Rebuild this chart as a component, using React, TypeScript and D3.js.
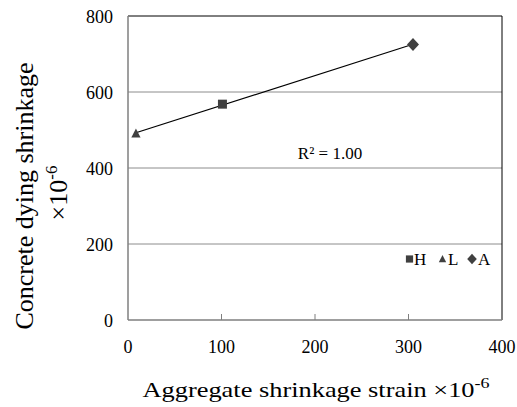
import React from "react";
import * as d3 from "d3";

const seriesNames = ["H", "L", "A"];
const xValues = [101, 8.5, 304.8];
const yValues = [568, 491, 725];
const xTicks = [0, 100, 200, 300, 400];
const yTicks = [0, 200, 400, 600, 800];
const r2Label = "R² = 1.00";

const W = 517, H = 407;
const m = { left: 128, right: 502, top: 16, bottom: 320 };
const font = "'Liberation Serif', 'Times New Roman', serif";
const markerColor = "#404040";

function markerPath(i: number, s: number): string {
  if (i === 0) return `M${-4.5 * s},${-4.5 * s}h${9 * s}v${9 * s}h${-9 * s}Z`;
  if (i === 1) return `M0,${-5 * s}L${4.6 * s},${4 * s}L${-4.6 * s},${4 * s}Z`;
  return `M0,${-6.5 * s}L${6 * s},0L0,${6.5 * s}L${-6 * s},0Z`;
}

export default function App() {
  const x = d3.scaleLinear().domain([0, 400]).range([m.left, m.right]);
  const y = d3.scaleLinear().domain([0, 800]).range([m.bottom, m.top]);

  const mx = d3.mean(xValues)!, my = d3.mean(yValues)!;
  const slope = d3.sum(xValues.map((v, i) => (v - mx) * (yValues[i] - my))) /
    d3.sum(xValues.map((v) => (v - mx) ** 2));
  const icpt = my - slope * mx;
  const [x0, x1] = d3.extent(xValues) as [number, number];
  const line = d3.line<number>().x((d) => x(d)).y((d) => y(icpt + slope * d));

  const legendMarkX = [409.5, 442.5, 472];
  const legendTextX = [414, 448, 478];
  return (
    <svg width={W} height={H} style={{ position: "absolute", left: 0, top: 0 }}>
      <rect width={W} height={H} fill="#fff" />
      {yTicks.filter((t) => t > 0 && t < 800).map((t) => (
        <line key={t} x1={m.left} x2={m.right} y1={y(t)} y2={y(t)} stroke="#8c8c8c" strokeWidth={1} />
      ))}
      <line x1={m.left} x2={m.right} y1={m.top} y2={m.top} stroke="#000" />
      <line x1={m.right} x2={m.right} y1={m.top} y2={m.bottom} stroke="#000" />
      <line x1={m.left} x2={m.left} y1={m.top} y2={m.bottom} stroke="#7f7f7f" strokeWidth={1.5} />
      <line x1={m.left} x2={m.right} y1={m.bottom} y2={m.bottom} stroke="#7f7f7f" strokeWidth={1.5} />
      {xTicks.filter((t) => t > 0 && t < 400).map((t) => (
        <line key={t} x1={x(t)} x2={x(t)} y1={m.bottom} y2={m.bottom - 6} stroke="#7f7f7f" />
      ))}
      {yTicks.map((t) => (
        <text key={t} x={m.left - 15} y={y(t) + 1} dy="0.35em" textAnchor="end" fontFamily={font} fontSize={18}>{t}</text>
      ))}
      {xTicks.map((t) => (
        <text key={t} x={x(t)} y={m.bottom + 33} textAnchor="middle" fontFamily={font} fontSize={18}>{t}</text>
      ))}
      <path d={line([x0, x1])!} fill="none" stroke="#000" strokeWidth={1.2} />
      {xValues.map((v, i) => (
        <path key={i} d={markerPath(i, 1)} transform={`translate(${x(v)},${y(yValues[i])})`} fill={markerColor} />
      ))}
      <text x={330} y={159} textAnchor="middle" fontFamily={font} fontSize={17}>{r2Label}</text>
      {seriesNames.map((n, i) => (
        <g key={n}>
          <path d={markerPath(i, 0.8)} transform={`translate(${legendMarkX[i]},${259})`} fill={markerColor} />
          <text x={legendTextX[i]} y={265} fontFamily={font} fontSize={17}>{n}</text>
        </g>
      ))}
      <text transform="translate(33,196) rotate(-90)" textAnchor="middle" fontFamily={font} fontSize={26}>Concrete dying shrinkage</text>
      <text transform="translate(67,193) rotate(-90)" textAnchor="middle" fontFamily={font} fontSize={26}>
        ×10<tspan dy={-10} fontSize={17}>-6</tspan>
      </text>
      <g transform="translate(316,397) scale(1.2,1)">
        <text x={0} y={0} textAnchor="middle" fontFamily={font} fontSize={22}>
          Aggregate shrinkage strain ×10<tspan dy={-9} fontSize={15}>-6</tspan>
        </text>
      </g>
    </svg>
  );
}
